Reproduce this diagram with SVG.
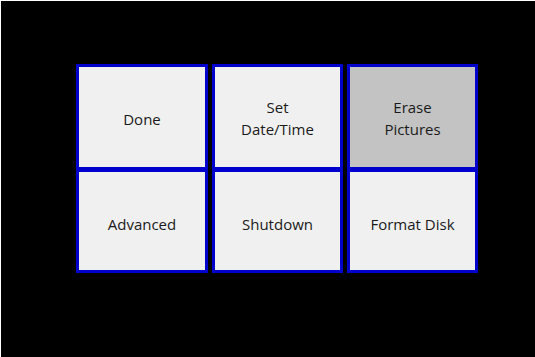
<svg xmlns="http://www.w3.org/2000/svg" width="535" height="357" viewBox="0 0 535 357">
<style>
.cell{fill:#f0f0f0;stroke:#0000cc;stroke-width:3}
.sel{fill:#c3c3c3}
text{font-family:"Open Sans","Noto Sans","DejaVu Sans",sans-serif;font-size:15px;fill:#1a1a1a;text-anchor:middle}
</style>
<rect x="0" y="0" width="535" height="357" fill="#ffffff"/>
<rect x="1" y="1" width="534" height="356" fill="#000000"/>
<g id="done"><rect class="cell" x="77.5" y="65.5" width="129" height="103"/><text x="142" y="125">Done</text></g>
<g id="set-date-time"><rect class="cell" x="213.5" y="65.5" width="128" height="103"/><text x="277.5" y="113">Set</text><text x="277.5" y="135">Date/Time</text></g>
<g id="erase-pictures"><rect class="cell sel" x="348.5" y="65.5" width="128" height="103"/><text x="412.5" y="113">Erase</text><text x="412.5" y="135">Pictures</text></g>
<g id="advanced"><rect class="cell" x="77.5" y="170.5" width="129" height="101"/><text x="142" y="230">Advanced</text></g>
<g id="shutdown"><rect class="cell" x="213.5" y="170.5" width="128" height="101"/><text x="277.5" y="230">Shutdown</text></g>
<g id="format-disk"><rect class="cell" x="348.5" y="170.5" width="128" height="101"/><text x="412.5" y="230">Format Disk</text></g>
<g id="connectors"/>
</svg>
